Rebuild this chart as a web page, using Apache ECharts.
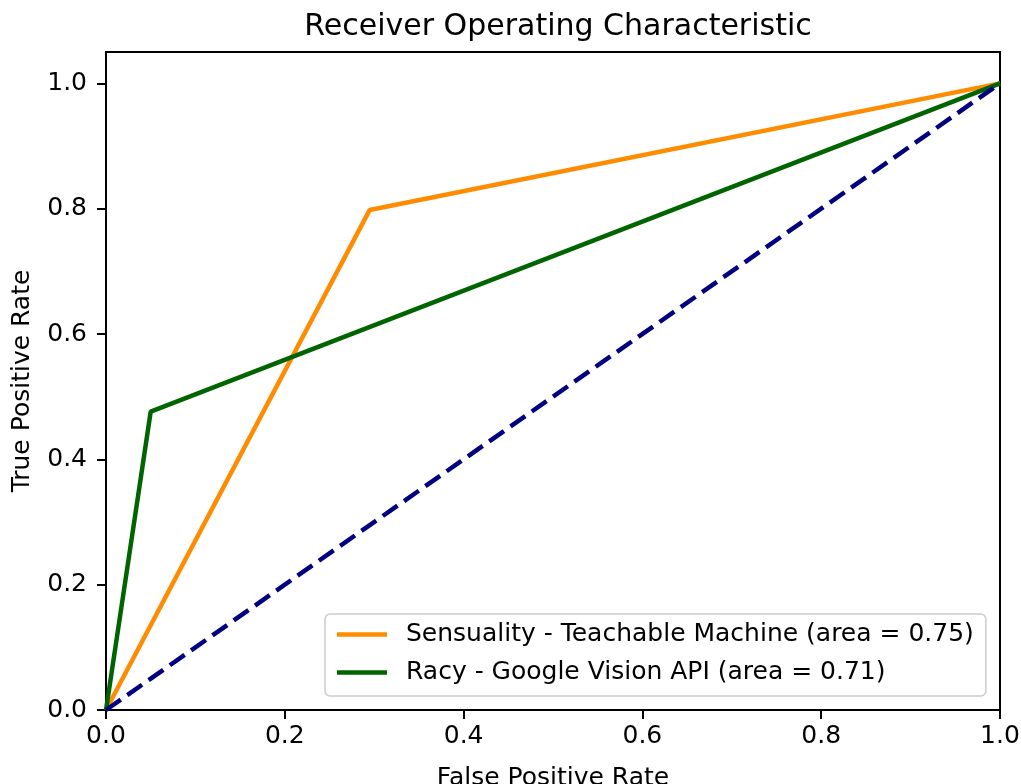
<!DOCTYPE html>
<html>
<head>
<meta charset="utf-8">
<script src="https://cdn.jsdelivr.net/npm/echarts@6/dist/echarts.min.js"></script>
<style>
html,body{margin:0;padding:0;background:#fff;}
#chart{width:1021px;height:784px;}
</style>
</head>
<body>
<div id="chart"></div>
<script>
const titleText = 'Receiver Operating Characteristic';
const xName = 'False Positive Rate';
const yName = 'True Positive Rate';
const xTicks = [0, 0.2, 0.4, 0.6, 0.8, 1.0];
const yTicks = [0, 0.2, 0.4, 0.6, 0.8, 1.0];
const seriesNames = ['Sensuality - Teachable Machine (area = 0.75)', 'Racy - Google Vision API (area = 0.71)'];
const fprSensuality = [0, 0.295, 1];
const tprSensuality = [0, 0.798, 1];
const fprRacy = [0, 0.050, 1];
const tprRacy = [0, 0.476, 1];
const diagX = [0, 1];
const diagY = [0, 1];

const font = 'DejaVu Sans';
const zip = (a, b) => a.map((v, i) => [v, b[i]]);

const chart = echarts.init(document.getElementById('chart'), null, {renderer: 'canvas'});
chart.setOption({
  animation: false,
  backgroundColor: '#fff',
  title: {
    text: titleText,
    left: 553, textAlign: 'center', top: 7,
    textStyle: {fontFamily: font, fontSize: 30, fontWeight: 'normal', color: '#000'}
  },
  grid: {
    left: 106, right: 21, top: 52, bottom: 74,
    containLabel: false, outerBoundsMode: 'none',
    show: true, borderColor: '#000', borderWidth: 2, backgroundColor: 'transparent'
  },
  legend: {
    data: seriesNames,
    orient: 'vertical',
    left: 325, top: 614,
    padding: [8, 12, 11, 12],
    itemGap: 13,
    itemWidth: 50, itemHeight: 4.5,
    icon: 'rect',
    backgroundColor: 'rgba(255,255,255,0.8)',
    borderColor: '#cccccc', borderWidth: 1.5, borderRadius: 5,
    textStyle: {fontFamily: font, fontSize: 25, color: '#000', lineHeight: 25, padding: [0, 0, 0, 14]}
  },
  xAxis: {
    type: 'value', min: 0, max: 1,
    name: xName, nameLocation: 'middle', nameGap: 56,
    nameTextStyle: {fontFamily: font, fontSize: 25, color: '#000'},
    axisLine: {show: true, onZero: false, lineStyle: {color: '#000', width: 2}},
    axisTick: {show: true, inside: false, length: 9, lineStyle: {color: '#000', width: 2}, customValues: xTicks},
    axisLabel: {fontFamily: font, fontSize: 25, color: '#000', margin: 14, customValues: xTicks,
      formatter: v => v.toFixed(1)},
    splitLine: {show: false}
  },
  yAxis: {
    type: 'value', min: 0, max: 1.05,
    name: yName, nameLocation: 'middle', nameGap: 71, nameRotate: 90,
    nameTextStyle: {fontFamily: font, fontSize: 25, color: '#000'},
    axisLine: {show: true, onZero: false, lineStyle: {color: '#000', width: 2}},
    axisTick: {show: true, inside: false, length: 9, lineStyle: {color: '#000', width: 2}, customValues: yTicks},
    axisLabel: {fontFamily: font, fontSize: 25, color: '#000', margin: 19, customValues: yTicks,
      formatter: v => v.toFixed(1)},
    splitLine: {show: false}
  },
  series: [
    {
      name: seriesNames[0], type: 'line', data: zip(fprSensuality, tprSensuality),
      showSymbol: false, symbol: 'none', color: '#ff8c00',
      lineStyle: {color: '#ff8c00', width: 4.5}, z: 3
    },
    {
      name: seriesNames[1], type: 'line', data: zip(fprRacy, tprRacy),
      showSymbol: false, symbol: 'none', color: '#006400',
      lineStyle: {color: '#006400', width: 4.5}, z: 3
    },
    {
      name: 'diag', type: 'line', data: zip(diagX, diagY),
      showSymbol: false, symbol: 'none', color: '#000080',
      lineStyle: {color: '#000080', width: 4.5, type: [18, 8]}, z: 4
    }
  ]
});
</script>
</body>
</html>
